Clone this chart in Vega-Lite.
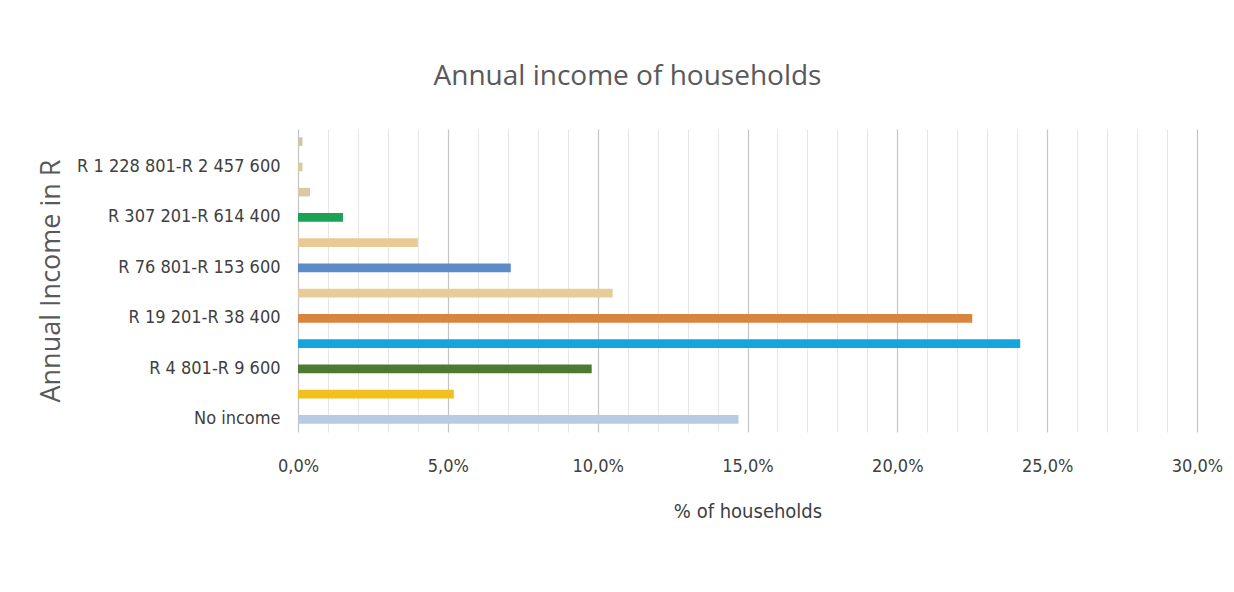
{
  "$schema": "https://vega.github.io/schema/vega-lite/v6.json",
  "width": 899,
  "height": 303,
  "autosize": {"type": "none"},
  "padding": {"left": 298, "top": 129, "right": 37, "bottom": 160},
  "background": "white",
  "config": {"view": {"stroke": null}},
  "title": {
    "text": "Annual income of households",
    "font": "Open Sans",
    "fontSize": 28,
    "fontWeight": "normal",
    "color": "#595959",
    "anchor": "middle",
    "dx": -120,
    "offset": 38
  },
  "data": {
    "values": [
      {"income": "No income", "pct": 14.7},
      {"income": "R 1-R 4 800", "pct": 5.2},
      {"income": "R 4 801-R 9 600", "pct": 9.8},
      {"income": "R 9 601-R 19 200", "pct": 24.1},
      {"income": "R 19 201-R 38 400", "pct": 22.5},
      {"income": "R 38 401-R 76 800", "pct": 10.5},
      {"income": "R 76 801-R 153 600", "pct": 7.1},
      {"income": "R 153 601-R 307 200", "pct": 4.0},
      {"income": "R 307 201-R 614 400", "pct": 1.5},
      {"income": "R 614 401-R 1 228 800", "pct": 0.4},
      {"income": "R 1 228 801-R 2 457 600", "pct": 0.15},
      {"income": "R 2 457 601 or more", "pct": 0.15}
    ]
  },
  "encoding": {
    "y": {
      "field": "income",
      "type": "nominal",
      "sort": ["R 2 457 601 or more", "R 1 228 801-R 2 457 600", "R 614 401-R 1 228 800", "R 307 201-R 614 400", "R 153 601-R 307 200", "R 76 801-R 153 600", "R 38 401-R 76 800", "R 19 201-R 38 400", "R 9 601-R 19 200", "R 4 801-R 9 600", "R 1-R 4 800", "No income"],
      "scale": {"paddingInner": 0.66, "paddingOuter": 0.33},
      "axis": {
        "values": ["No income", "R 4 801-R 9 600", "R 19 201-R 38 400", "R 76 801-R 153 600", "R 307 201-R 614 400", "R 1 228 801-R 2 457 600"],
        "title": "Annual Income in R",
        "titleFont": "Open Sans",
        "titleFontSize": 27,
        "titleFontWeight": "normal",
        "titleColor": "#595959",
        "titlePadding": 33,
        "labelFont": "'DejaVu Sans Condensed', 'DejaVu Sans', sans-serif",
        "labelFontSize": 18,
        "labelColor": "#404040",
        "labelPadding": 18,
        "labelLimit": 400,
        "ticks": false,
        "domain": false,
        "grid": false
      }
    }
  },
  "layer": [
    {
      "mark": {"type": "bar", "opacity": 0},
      "encoding": {
        "x": {
          "field": "pct",
          "type": "quantitative",
          "scale": {"domain": [0, 30], "nice": false},
          "axis": {
            "orient": "top",
            "values": [1, 2, 3, 4, 6, 7, 8, 9, 11, 12, 13, 14, 16, 17, 18, 19, 21, 22, 23, 24, 26, 27, 28, 29],
            "labels": false,
            "ticks": false,
            "domain": false,
            "title": null,
            "grid": true,
            "gridColor": "#e6e6e6",
            "gridWidth": 1
          }
        }
      }
    },
    {
      "mark": {"type": "bar"},
      "encoding": {
        "x": {
          "field": "pct",
          "type": "quantitative",
          "scale": {"domain": [0, 30], "nice": false},
          "axis": {
            "orient": "bottom",
            "values": [0, 5, 10, 15, 20, 25, 30],
            "labelExpr": "replace(format(datum.value, '.1f'), '.', ',') + '%'",
            "labelFlush": false,
            "title": "% of households",
            "titleFont": "'DejaVu Sans Condensed', 'DejaVu Sans', sans-serif",
            "titleFontSize": 20,
            "titleFontWeight": "normal",
            "titleColor": "#404040",
            "titlePadding": 26,
            "labelFont": "'DejaVu Sans Condensed', 'DejaVu Sans', sans-serif",
            "labelFontSize": 18,
            "labelColor": "#404040",
            "labelPadding": 25,
            "ticks": false,
            "domain": false,
            "grid": true,
            "gridColor": "#c4c4c4",
            "gridWidth": 1.2
          }
        },
        "color": {
          "field": "income",
          "type": "nominal",
          "legend": null,
          "scale": {
            "domain": ["No income", "R 1-R 4 800", "R 4 801-R 9 600", "R 9 601-R 19 200", "R 19 201-R 38 400", "R 38 401-R 76 800", "R 76 801-R 153 600", "R 153 601-R 307 200", "R 307 201-R 614 400", "R 614 401-R 1 228 800", "R 1 228 801-R 2 457 600", "R 2 457 601 or more"],
            "range": ["#b7cbe3", "#f2c01e", "#4d7a30", "#13a6dc", "#d9843f", "#e8cb9b", "#5b8cc8", "#e9c995", "#1aa354", "#d8c8a4", "#d6cca2", "#cbc6b0"]
          }
        }
      }
    }
  ],
  "resolve": {"axis": {"x": "independent"}}
}
